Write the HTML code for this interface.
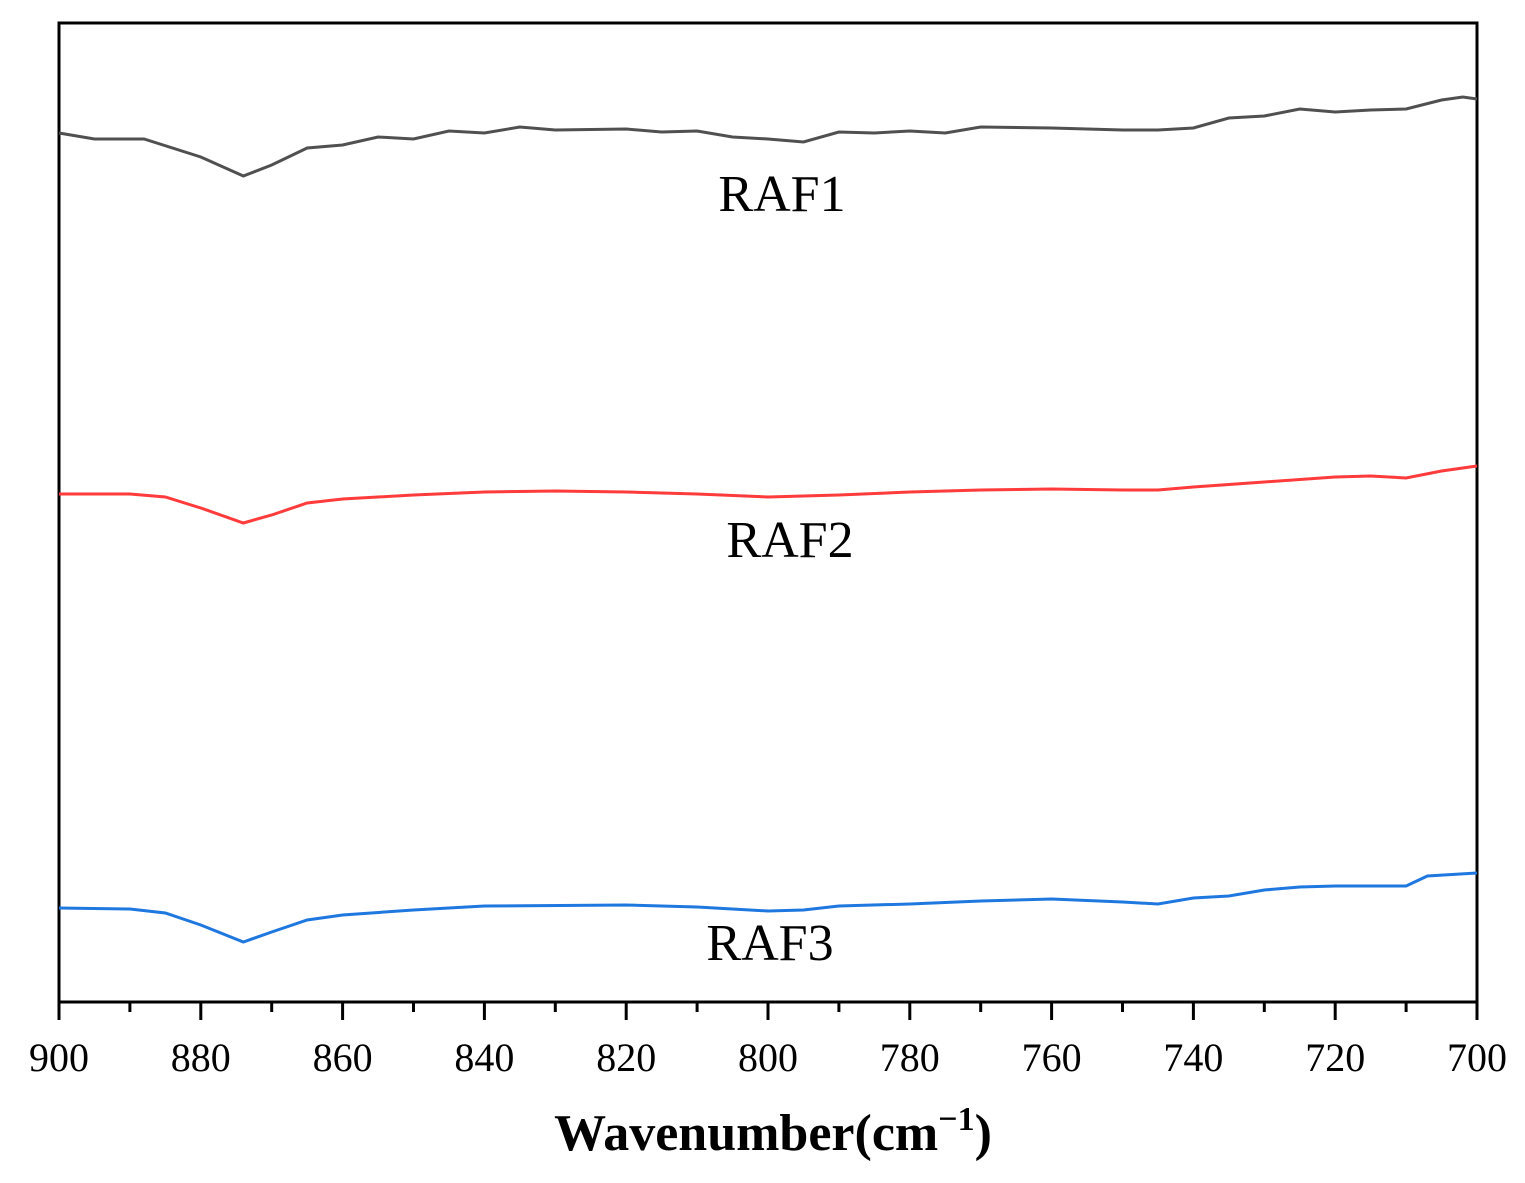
<!DOCTYPE html>
<html><head><meta charset="utf-8"><style>
html,body{margin:0;padding:0;background:#fff;}
svg{display:block;}
text{font-family:"Liberation Serif",serif;}
</style></head><body>
<svg id="chart" width="1525" height="1183">
<rect x="59" y="23" width="1418" height="979" fill="none" stroke="#000" stroke-width="3"/>
<g id="ticks"></g>
<g id="series"></g>
<text x="782" y="211" font-size="52" text-anchor="middle">RAF1</text>
<text x="790" y="557" font-size="52" text-anchor="middle">RAF2</text>
<text x="770" y="960" font-size="52" text-anchor="middle">RAF3</text>
<text x="773" y="1150" font-size="52" font-weight="bold" text-anchor="middle">Wavenumber(cm<tspan dy="-20" font-size="34">−1</tspan><tspan dy="20">)</tspan></text>
</svg>
<script>
const wn1 = [900,895,888,880,874,870,865,860,855,850,845,840,835,830,820,815,810,805,800,795,790,785,780,775,770,760,750,745,740,735,730,725,720,715,710,705,702,700];
const raf1 = [869,863,863,845,826,837,854,857,865,863,871,869,875,872,873,870,871,865,863,860,870,869,871,869,875,874,872,872,874,884,886,893,890,892,893,902,905,903];
const wn2 = [900,890,885,880,874,870,865,860,850,840,830,820,810,800,790,780,770,760,750,745,740,730,720,715,710,705,700];
const raf2 = [508,508,505,494,479,487,499,503,507,510,511,510,508,505,507,510,512,513,512,512,515,520,525,526,524,531,536];
const wn3 = [900,890,885,880,874,870,865,860,850,840,820,810,800,795,790,780,770,760,750,745,740,735,730,725,720,710,707,700];
const raf3 = [94,93,89,77,60,70,82,87,92,96,97,95,91,92,96,98,101,103,100,98,104,106,112,115,116,116,126,129];
const xTicks = [900,880,860,840,820,800,780,760,740,720,700];

const L=59,R=1477,T=23,B=1002;
const xs = w => L + (900 - w) / 200 * (R - L);
const ys = v => B - v / 979 * (B - T);
const NS = "http://www.w3.org/2000/svg";
const tg = document.getElementById('ticks');
for (let w = 900; w >= 700; w -= 10) {
  const major = w % 20 === 0;
  const ln = document.createElementNS(NS,'line');
  ln.setAttribute('x1',xs(w)); ln.setAttribute('x2',xs(w));
  ln.setAttribute('y1',B); ln.setAttribute('y2',B + (major?18:10));
  ln.setAttribute('stroke','#000'); ln.setAttribute('stroke-width','3');
  
  
  tg.appendChild(ln);
}
xTicks.forEach(w => {
  const t = document.createElementNS(NS,'text');
  t.setAttribute('x',xs(w)); t.setAttribute('y',1071);
  t.setAttribute('font-size','40'); t.setAttribute('text-anchor','middle');
  t.textContent = w;
  
  
  tg.appendChild(t);
});
const sg = document.getElementById('series');
[[wn1,raf1,'#505050','raf1-line'],[wn2,raf2,'#ff3b3b','raf2-line'],[wn3,raf3,'#1f77e0','raf3-line']].forEach(s => {
  const p = document.createElementNS(NS,'polyline');
  p.setAttribute('points', s[0].map((w,i)=>xs(w)+','+ys(s[1][i])).join(' '));
  p.setAttribute('fill','none'); p.setAttribute('stroke',s[2]); p.setAttribute('stroke-width','3');
  
  
  sg.appendChild(p);
});
</script>
</body></html>
